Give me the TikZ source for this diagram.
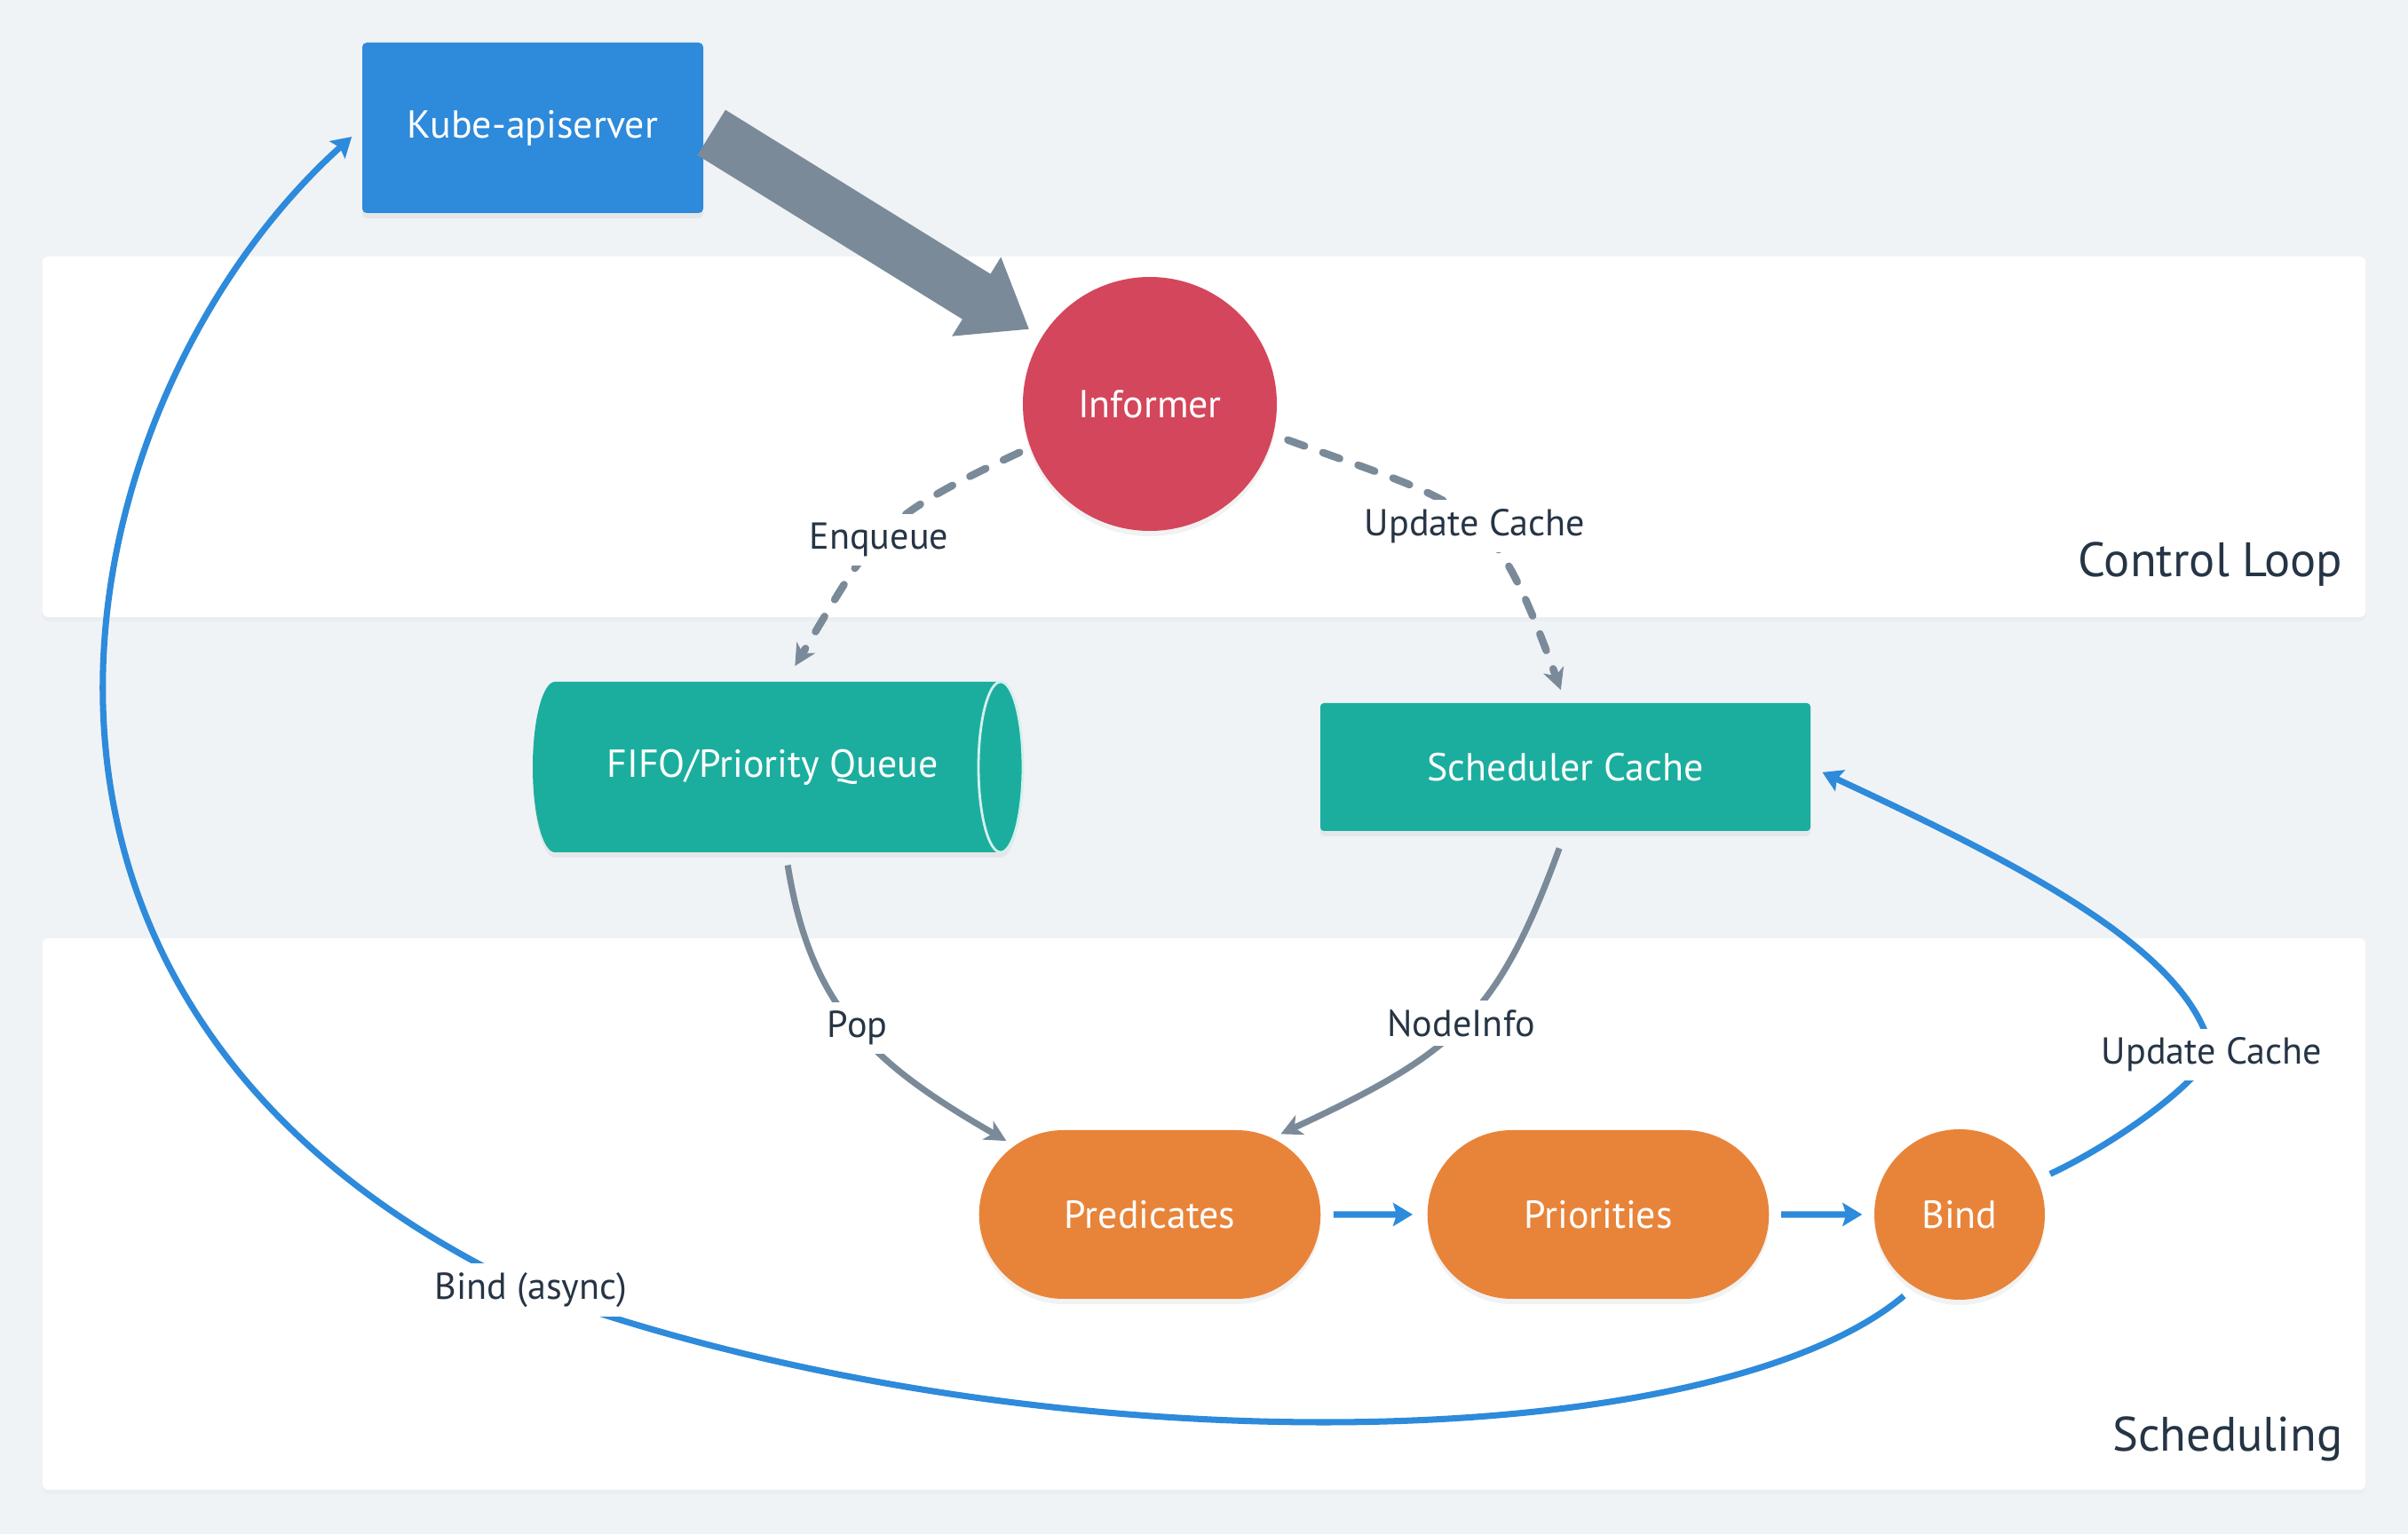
\documentclass[tikz,border=0pt]{standalone}
\usepackage{fontspec}
\setmainfont{PT Sans}
\usetikzlibrary{arrows.meta,shapes.misc,shadows,positioning}

\definecolor{bgcol}{HTML}{EFF3F6}
\definecolor{apiblue}{HTML}{2E8ADA}
\definecolor{infred}{HTML}{D4465B}
\definecolor{qteal}{HTML}{1BAE9E}
\definecolor{steporange}{HTML}{E8843A}
\definecolor{linegray}{HTML}{7A8A99}
\definecolor{txtdark}{HTML}{263545}

\tikzset{
  panel/.style={fill=white, rounded corners=0.06cm, drop shadow={opacity=0.04, shadow xshift=0pt, shadow yshift=-0.05cm}},
  softshadow/.style={drop shadow={opacity=0.1, shadow xshift=0pt, shadow yshift=-0.06cm}},
  boxtext/.style={text=white, font=\fontsize{12.5}{15}\selectfont},
  box/.style={boxtext, softshadow},
  stepbox/.style={box, rounded rectangle, fill=steporange, minimum width=4.08cm, minimum height=1.90cm},
  lbl/.style={fill=white, text=txtdark, font=\fontsize{12}{14}\selectfont, inner sep=0.1cm},
  title/.style={text=txtdark, font=\fontsize{15.5}{18}\selectfont, anchor=east, inner sep=0pt},
  feed/.style={linegray, line width=2pt, -{Stealth[length=0.24cm, width=0.24cm, inset=0.07cm]}},
  dashfeed/.style={feed, line width=2.4pt, dash pattern=on 0.2cm off 0.22cm, line cap=round},
  flow/.style={apiblue, line width=2pt, -{Stealth[length=0.22cm, width=0.26cm, inset=0.04cm]}},
  bigarrow/.style={linegray, line width=0.6cm, -{Triangle[length=0.7cm, width=1.0cm]}}
}

\begin{document}
\begin{tikzpicture}
	\useasboundingbox (0,0) rectangle (27.12,17.28);
	% background and the two panels
	\fill[bgcol] (0,0) rectangle (27.12,17.28);
	\fill[panel] (0.48,10.33) rectangle (26.64,14.39);
	\fill[panel] (0.48,0.50) rectangle (26.64,6.71);
	\node[title] at (26.39,10.92) {Control Loop};
	\node[title] at (26.39,1.07) {Scheduling};

	\node[box, fill=apiblue, rounded corners=0.05cm, minimum width=3.84cm, minimum height=1.92cm] (api) at (6.00,15.84) {Kube-apiserver};
	\node[box, circle, fill=infred, minimum size=2.86cm] (inf) at (12.95,12.73) {Informer};
	% queue drawn as a lying cylinder
	\fill[qteal, softshadow] (6.25,9.60) -- (11.27,9.60) arc[start angle=90, end angle=-90, x radius=0.25, y radius=0.96]
		-- (6.25,7.68) arc[start angle=270, end angle=90, x radius=0.25, y radius=0.96] -- cycle;
	\draw[white!82!qteal, line width=0.8pt] (11.27,8.64) ellipse (0.25 and 0.96);
	\node[boxtext, minimum width=5.40cm, minimum height=1.92cm] (queue) at (8.70,8.64) {FIFO/Priority Queue};
	\node[box, fill=qteal, rounded corners=0.04cm, minimum width=5.52cm, minimum height=1.44cm] (cache) at (17.63,8.64) {Scheduler Cache};
	\node[stepbox] (pred) at (12.95,3.60) {Predicates};
	\node[stepbox] (prio) at (18.00,3.60) {Priorities};
	\node[box, circle, fill=steporange, minimum size=1.92cm] (bind) at (22.07,3.60) {Bind};

	% control loop
	\draw[bigarrow, shorten <=0.1cm, shorten >=0.16cm] (api.east) -- (inf);
	\draw[dashfeed, shorten <=0.13cm, shorten >=0.2cm] (inf.200) to[out=205, in=59, looseness=1.3] node[lbl, pos=0.52]{Enqueue} ([xshift=0.15cm]queue.north);
	\draw[dashfeed, shorten <=0.17cm, shorten >=0.15cm] (inf.-14) to[out=-20, in=110, looseness=1.4] node[lbl, pos=0.53]{Update Cache} (cache.north);

	% scheduling
	\draw[feed, shorten <=0.14cm, shorten >=0.1cm] ([xshift=0.15cm]queue.south) to[out=-81, in=150, looseness=1.1] node[lbl]{Pop} (pred.153);
	\draw[feed, shorten <=0.2cm, shorten >=0.1cm] (cache.south) to[out=-110, in=25, looseness=1.2] node[lbl]{NodeInfo} (pred.32);
	\draw[flow, shorten <=0.14cm, shorten >=0.16cm] (pred) -- (prio);
	\draw[flow, shorten <=0.13cm, shorten >=0.13cm] (prio) -- (bind);

	\coordinate (ucp) at (24.91,5.40);
	\coordinate (bap) at (5.98,2.75);
	\draw[flow, shorten <=0.15cm, shorten >=0.14cm] (bind.24) .. controls +(25:0.8) and +(-125:0.6) .. (ucp) .. controls +(100:1.2) and +(-25:2.5) .. (cache.east);
	\draw[flow, shorten <=0.15cm, shorten >=0.15cm] (bind.238) .. controls +(220:3) and +(-20:6) .. (bap) .. controls +(155:7.6) and +(222:4.5) .. (api.west);
	\node[lbl] at (ucp) {Update Cache};
	\node[lbl] at (bap) {Bind (async)};
\end{tikzpicture}
\end{document}
